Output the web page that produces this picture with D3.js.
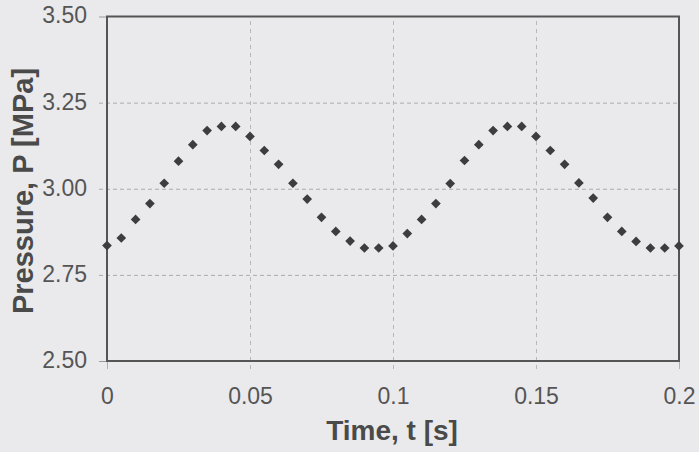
<!DOCTYPE html>
<html>
<head>
<meta charset="utf-8">
<script src="https://cdn.jsdelivr.net/npm/d3@7/dist/d3.min.js"></script>
<style>
  html, body { margin: 0; padding: 0; background: #eaeaed; }
  svg { display: block; }
  text { font-family: "Liberation Sans", Arial, sans-serif; }
</style>
</head>
<body>
<svg id="chart" width="699" height="452"></svg>
<script>
// Sampled times [s]
const time = [
  0, 0.005, 0.01, 0.015, 0.02, 0.025, 0.03, 0.035, 0.04, 0.045,
  0.05, 0.055, 0.06, 0.065, 0.07, 0.075, 0.08, 0.085, 0.09, 0.095,
  0.1, 0.105, 0.11, 0.115, 0.12, 0.125, 0.13, 0.135, 0.14, 0.145,
  0.15, 0.155, 0.16, 0.165, 0.17, 0.175, 0.18, 0.185, 0.19, 0.195, 0.2
];
// Measured pressure [MPa]
const pressure = [
  2.835, 2.857, 2.911, 2.957, 3.016, 3.080, 3.128, 3.169, 3.181, 3.181,
  3.152, 3.111, 3.071, 3.016, 2.970, 2.917, 2.876, 2.848, 2.828, 2.828,
  2.834, 2.870, 2.911, 2.957, 3.015, 3.082, 3.128, 3.169, 3.181, 3.181,
  3.152, 3.111, 3.071, 3.017, 2.973, 2.917, 2.876, 2.847, 2.828, 2.828,
  2.834
];
const xTicks = [0, 0.05, 0.1, 0.15, 0.2];
const xTickLabels = ["0", "0.05", "0.1", "0.15", "0.2"];
const yTicks = [2.5, 2.75, 3.0, 3.25, 3.5];
const yTickLabels = ["2.50", "2.75", "3.00", "3.25", "3.50"];
const xTitle = "Time, t [s]";
const yTitle = "Pressure, P [MPa]";

const svg = d3.select("#chart");
const m = { left: 107, right: 20, top: 16.5, bottom: 91 };
const W = 699, H = 452;
const w = W - m.left - m.right;
const h = H - m.top - m.bottom;

const x = d3.scaleLinear().domain([0, 0.2]).range([0, w]);
const y = d3.scaleLinear().domain([2.5, 3.5]).range([h, 0]);

const g = svg.append("g").attr("transform", `translate(${m.left},${m.top})`);

// Dashed grid lines, reaching a little past the frame as tick marks
const gridY = g.append("g")
  .attr("transform", "translate(-8,0)")
  .call(d3.axisLeft(y).tickValues(yTicks.slice(1, -1)).tickSize(-(w + 8)).tickFormat(""));
gridY.select(".domain").remove();
gridY.selectAll("line").attr("stroke", "#ababab").attr("stroke-width", 1).attr("stroke-dasharray", "4,3");

const gridX = g.append("g")
  .attr("transform", `translate(0,${h + 8})`)
  .call(d3.axisBottom(x).tickValues(xTicks.slice(1, -1)).tickSize(h + 8).tickFormat(""));
gridX.select(".domain").remove();
gridX.selectAll("line").attr("stroke", "#b8b8b8").attr("stroke-width", 1).attr("stroke-dasharray", "4,4")
  .attr("y2", -(h + 8));

// Outer tick marks at the frame corners
g.append("g").call(d3.axisLeft(y).tickValues([yTicks[0], yTicks[yTicks.length - 1]]).tickSize(8).tickFormat(""))
  .call(a => a.select(".domain").remove())
  .selectAll("line").attr("stroke", "#9a9a9a");
g.append("g").attr("transform", `translate(0,${h})`)
  .call(d3.axisBottom(x).tickValues([xTicks[0], xTicks[xTicks.length - 1]]).tickSize(8).tickFormat(""))
  .call(a => a.select(".domain").remove())
  .selectAll("line").attr("stroke", "#b0b0b0");

// Plot frame
g.append("rect")
  .attr("x", 0).attr("y", 0).attr("width", w).attr("height", h)
  .attr("fill", "none").attr("stroke", "#555").attr("stroke-width", 2);

// Tick labels
const yAxis = g.append("g")
  .call(d3.axisLeft(y).tickValues(yTicks).tickSize(0).tickPadding(20)
    .tickFormat((d, i) => yTickLabels[i]));
yAxis.select(".domain").remove();
yAxis.selectAll("text")
  .attr("font-size", 23).attr("fill", "#555")
  .attr("font-family", "'Liberation Sans', Arial, sans-serif")
  .attr("dy", "0.28em");

const xAxis = g.append("g").attr("transform", `translate(0,${h})`)
  .call(d3.axisBottom(x).tickValues(xTicks).tickSize(0).tickPadding(27)
    .tickFormat((d, i) => xTickLabels[i]));
xAxis.select(".domain").remove();
xAxis.selectAll("text")
  .attr("font-size", 23).attr("fill", "#555")
  .attr("font-family", "'Liberation Sans', Arial, sans-serif");

// Data markers: diamonds
const diamond = d3.symbol().type(d3.symbolDiamond2).size(60);
g.append("g").selectAll("path")
  .data(time.map((t, i) => ({ t, p: pressure[i] })))
  .join("path")
  .attr("d", diamond)
  .attr("transform", d => `translate(${x(d.t)},${y(d.p)})`)
  .attr("fill", "#3d3d3f");

// Axis titles
svg.append("text")
  .attr("x", m.left + w / 2 - 1).attr("y", 440)
  .attr("text-anchor", "middle")
  .attr("font-size", 28).attr("font-weight", "bold").attr("fill", "#4a4a4a")
  .text(xTitle);

svg.append("text")
  .attr("transform", `translate(33,${191}) rotate(-90)`)
  .attr("text-anchor", "middle")
  .attr("font-size", 29).attr("font-weight", "bold").attr("fill", "#4a4a4a")
  .text(yTitle);
</script>
</body>
</html>
